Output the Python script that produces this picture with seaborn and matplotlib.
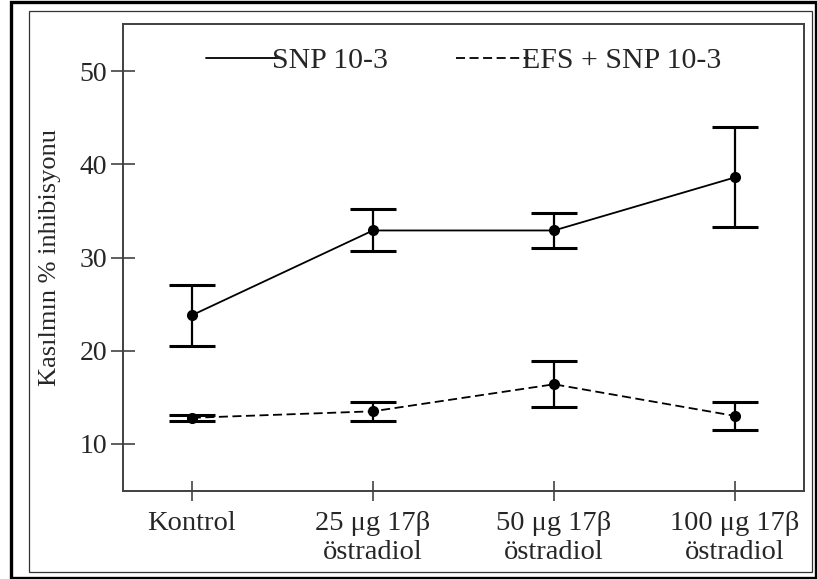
import numpy as np
import pandas as pd
import matplotlib
matplotlib.use("Agg")
import matplotlib.pyplot as plt
import seaborn as sns
from matplotlib.patches import Rectangle
from matplotlib.lines import Line2D

# ---- data ----
categories = ["Kontrol", "25 μg 17β\nöstradiol", "50 μg 17β\nöstradiol", "100 μg 17β\nöstradiol"]
series_names = ["SNP 10-3", "EFS + SNP 10-3"]
snp_mean = [23.8, 32.9, 32.9, 38.6]
snp_err = [3.3, 2.25, 1.85, 5.35]
efs_mean = [12.8, 13.5, 16.4, 13.0]
efs_err = [0.35, 1.0, 2.45, 1.5]
yticks = [10, 20, 30, 40, 50]
ylabel = "Kasılmın % inhibisyonu"

sns.set_style("white")
plt.rcParams["font.family"] = ["Liberation Serif", "DejaVu Serif"]

W, H = 817, 579
fig = plt.figure(figsize=(W / 100, H / 100), dpi=100)
ax = fig.add_axes([123 / W, 1 - 491 / H, (804 - 123) / W, (491 - 24) / H])

pos = list(range(len(categories)))
df = pd.DataFrame({
    "pos": pos * 2,
    "value": snp_mean + efs_mean,
    "series": [series_names[0]] * 4 + [series_names[1]] * 4,
})

sns.lineplot(data=df, x="pos", y="value", style="series",
             dashes={series_names[0]: "", series_names[1]: (5, 2.5)},
             markers={series_names[0]: "o", series_names[1]: "o"},
             color="black", markersize=8, markeredgewidth=0, linewidth=1.3,
             legend=False, ax=ax)

for m, e in [(snp_mean, snp_err), (efs_mean, efs_err)]:
    ax.errorbar(pos, m, yerr=e, fmt="none", ecolor="black",
                elinewidth=1.6, capsize=16.5, capthick=2.2, zorder=3)

ax.set_xlim(-0.38, 3.38)
ax.set_ylim(4.95, 55.05)
ax.set_xticks(pos)
ax.set_xticklabels(categories, fontsize=20.5, linespacing=1.2)
ax.set_yticks(yticks)
ax.set_yticklabels([str(t) for t in yticks], fontsize=20)
ax.set_xlabel("")
ax.set_ylabel(ylabel, fontsize=19, labelpad=13)

ax.tick_params(axis="y", left=True, direction="inout", length=17, width=1.1, pad=3, color="#333333")
ax.tick_params(axis="x", bottom=True, direction="inout", length=14.5, width=1.1, pad=7, color="#333333")
for s in ax.spines.values():
    s.set_color("#404040")
    s.set_linewidth(1.4)

handles = [Line2D([], [], color="black", lw=1.3),
           Line2D([], [], color="black", lw=1.3, dashes=(5, 2.5))]
ax.legend(handles, series_names, loc="upper center", bbox_to_anchor=(0.5, 1.008),
          ncol=2, frameon=False, fontsize=21.5, handlelength=2.45,
          handletextpad=-0.25, columnspacing=2.3)

# figure frames
fig.add_artist(Rectangle((11 / W, 1 - 577.5 / H), (815.5 - 11) / W, (577.5 - 1.5) / H,
                         transform=fig.transFigure, fill=False, ec="black", lw=2.4))
fig.add_artist(Rectangle((29 / W, 1 - 572 / H), (812 - 29) / W, (572 - 11) / H,
                         transform=fig.transFigure, fill=False, ec="#333333", lw=0.9))

fig.savefig("out.png", dpi=100)
